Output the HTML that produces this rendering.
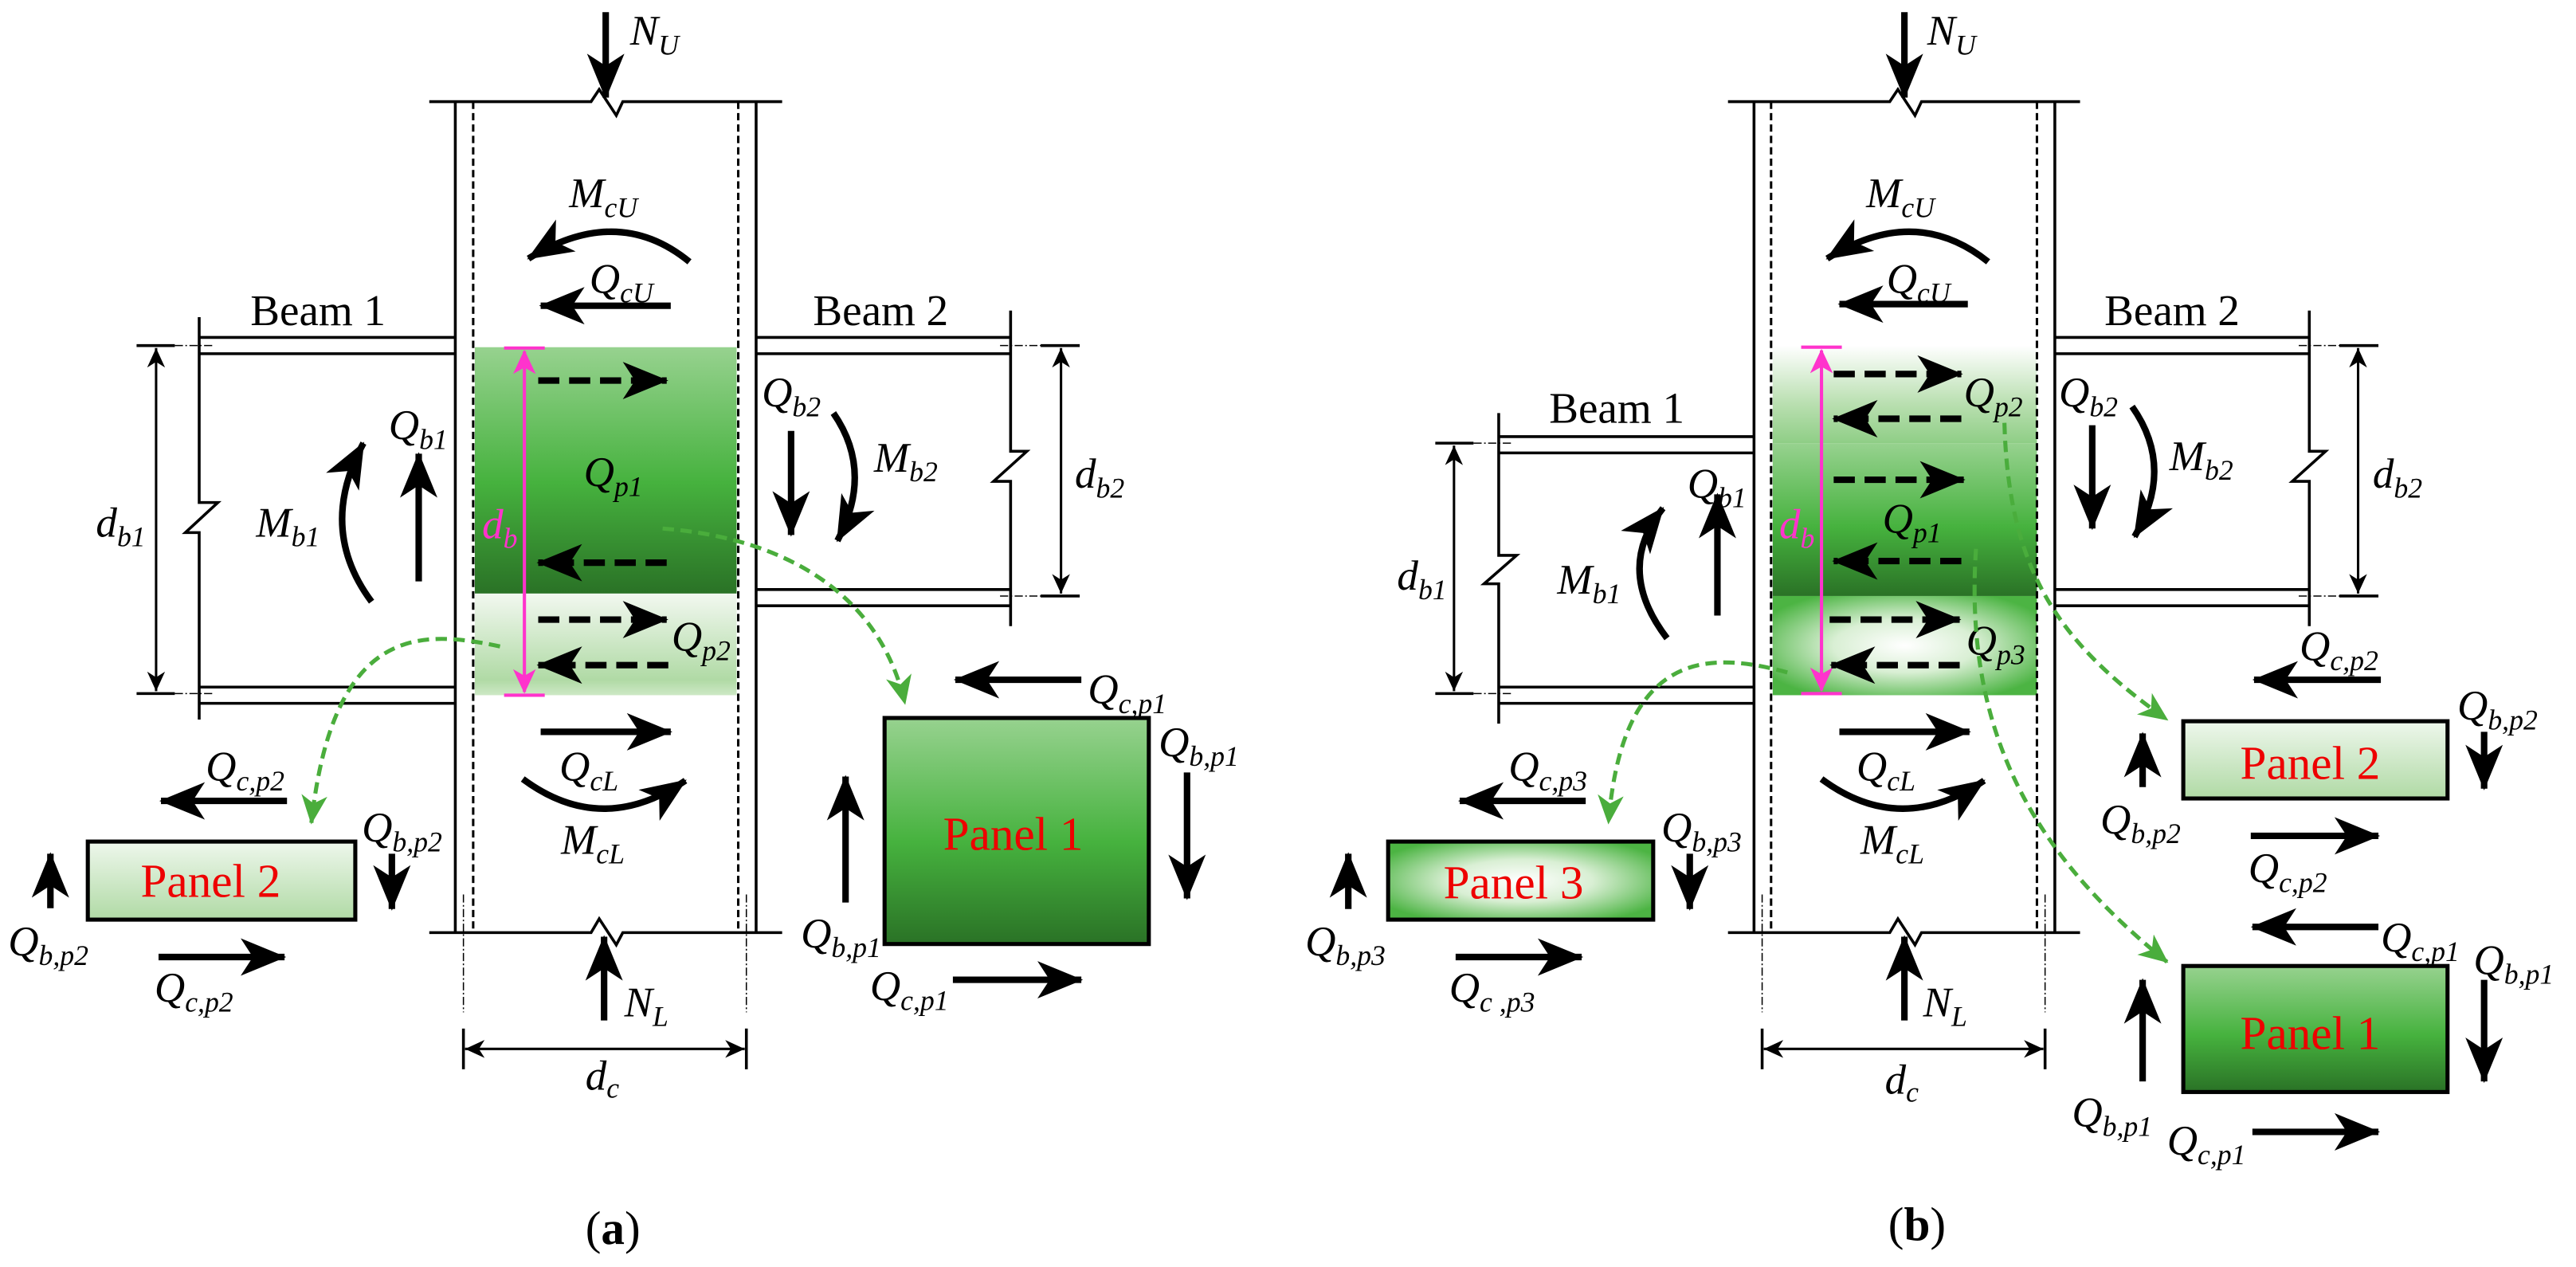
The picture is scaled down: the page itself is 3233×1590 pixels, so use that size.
<!DOCTYPE html>
<html><head><meta charset="utf-8"><style>
html,body{margin:0;padding:0;background:#fff}
svg{display:block}
text{font-family:"Liberation Serif","Noto Serif CJK SC","DejaVu Serif",serif}
.m{font-style:italic;font-size:52px;fill:#000}
.s{font-size:35px}
.t{font-size:54px;fill:#000}
.pl{font-size:58px;fill:#e00}
.k{stroke:#000;stroke-width:3.5;fill:none}
.a{stroke:#000;stroke-width:8;fill:none;marker-end:url(#ah)}
.da{stroke:#000;stroke-width:8;fill:none;stroke-dasharray:26,12;marker-end:url(#ah)}
.dim{stroke:#000;stroke-width:3;fill:none;marker-end:url(#sh);marker-start:url(#sh)}
.dd{stroke:#000;stroke-width:3;stroke-dasharray:9,5;fill:none}
.dt{stroke:#000;stroke-width:1.5;stroke-dasharray:10,3,2,3;fill:none}
.g{stroke:#4aad3c;stroke-width:5;stroke-dasharray:14,8;fill:none;marker-end:url(#gh)}
.box{stroke:#000;stroke-width:5}
</style></head><body>
<svg width="3233" height="1590" viewBox="0 0 3233 1590" xmlns="http://www.w3.org/2000/svg">
<defs>
<marker id="ah" markerUnits="userSpaceOnUse" markerWidth="64" markerHeight="50" refX="54" refY="23" orient="auto"><path d="M0,0 L56,23 L0,46 L15,23 z" fill="#000"/></marker>
<marker id="sh" markerUnits="userSpaceOnUse" markerWidth="30" markerHeight="24" refX="24" refY="11" orient="auto-start-reverse"><path d="M0,0 L24,11 L0,22 L7,11 z" fill="#000"/></marker>
<marker id="ph" markerUnits="userSpaceOnUse" markerWidth="30" markerHeight="34" refX="28" refY="14" orient="auto-start-reverse"><path d="M0,0 L30,14 L0,28 L8,14 z" fill="#ff33cc"/></marker>
<marker id="gh" markerUnits="userSpaceOnUse" markerWidth="44" markerHeight="40" refX="34" refY="16" orient="auto"><path d="M0,0 L36,16 L0,32 L10,16 z" fill="#4aad3c"/></marker>
<linearGradient id="dk" x1="0" y1="0" x2="0" y2="1"><stop offset="0" stop-color="#97d28f"/><stop offset="0.55" stop-color="#46b23e"/><stop offset="1" stop-color="#2a7226"/></linearGradient>
<linearGradient id="lt" x1="0" y1="0" x2="0" y2="1"><stop offset="0" stop-color="#f2f8f0"/><stop offset="0.85" stop-color="#b0daa5"/><stop offset="1" stop-color="#cde8c5"/></linearGradient>
<linearGradient id="lt2" x1="0" y1="0" x2="0" y2="1"><stop offset="0" stop-color="#ffffff"/><stop offset="0.6" stop-color="#b9dfb0"/><stop offset="1" stop-color="#8fce86"/></linearGradient>
<radialGradient id="rd" cx="0.5" cy="0.5" r="0.6"><stop offset="0" stop-color="#ffffff"/><stop offset="0.45" stop-color="#d9efd4"/><stop offset="1" stop-color="#4cb443"/></radialGradient>
<linearGradient id="lp" x1="0" y1="0" x2="0" y2="1"><stop offset="0" stop-color="#eef7ec"/><stop offset="1" stop-color="#b0daa5"/></linearGradient>
</defs>

<!-- ===== (a) ===== -->
<g transform="scale(1.0204)">
<rect x="584" y="427" width="322" height="303" fill="url(#dk)"/>
<rect x="584" y="730" width="322" height="125" fill="url(#lt)"/>
<path class="k" d="M528,125 H727 L737,110 L758,142 L766,125 H962"/>
<path class="k" d="M528,1147 H727 L737,1130 L758,1162 L766,1147 H962"/>
<line class="k" x1="560" y1="125" x2="560" y2="1147"/>
<line class="k" x1="930" y1="125" x2="930" y2="1147"/>
<line class="dd" x1="582" y1="125" x2="582" y2="1147"/>
<line class="dd" x1="908" y1="125" x2="908" y2="1147"/>
<line class="dt" x1="570" y1="1100" x2="570" y2="1245"/>
<line class="dt" x1="918" y1="1100" x2="918" y2="1245"/>
<line class="k" x1="570" y1="1265" x2="570" y2="1315"/>
<line class="k" x1="918" y1="1265" x2="918" y2="1315"/>
<line class="dim" x1="572" y1="1290" x2="916" y2="1290"/>
<text class="m" x="720" y="1340">d<tspan class="s" dy="10">c</tspan></text>
<line class="a" x1="745" y1="15" x2="745" y2="120"/>
<text class="m" x="775" y="55">N<tspan class="s" dy="12">U</tspan></text>
<line class="a" x1="743" y1="1255" x2="743" y2="1152"/>
<text class="m" x="768" y="1250">N<tspan class="s" dy="12">L</tspan></text>
<line stroke="#ff33cc" stroke-width="4" x1="645" y1="432" x2="645" y2="851" marker-start="url(#ph)" marker-end="url(#ph)"/>
<line stroke="#ff33cc" stroke-width="4" x1="620" y1="428" x2="670" y2="428"/>
<line stroke="#ff33cc" stroke-width="4" x1="620" y1="855" x2="670" y2="855"/>
<text class="m" x="593" y="662" style="fill:#ff33cc">d<tspan class="s" dy="12">b</tspan></text>
<line class="da" x1="662" y1="468" x2="820" y2="468"/>
<line class="da" x1="820" y1="692" x2="662" y2="692"/>
<line class="da" x1="662" y1="762" x2="820" y2="762"/>
<line class="da" x1="822" y1="818" x2="662" y2="818"/>
<text class="m" x="718" y="598">Q<tspan class="s" dy="12">p1</tspan></text>
<text class="m" x="826" y="800">Q<tspan class="s" dy="12">p2</tspan></text>
<path class="a" d="M848,322 Q760,250 650,318"/>
<text class="m" x="700" y="255">M<tspan class="s" dy="12">cU</tspan></text>
<line class="a" x1="825" y1="376" x2="665" y2="376"/>
<text class="m" x="725" y="360">Q<tspan class="s" dy="12">cU</tspan></text>
<line class="a" x1="665" y1="900" x2="825" y2="900"/>
<text class="m" x="688" y="960">Q<tspan class="s" dy="12">cL</tspan></text>
<path class="a" d="M643,958 Q740,1030 843,960"/>
<text class="m" x="690" y="1050">M<tspan class="s" dy="12">cL</tspan></text>
<path class="k" d="M245,415 H560 M245,435 H560 M245,845 H560 M245,865 H560"/>
<path class="k" d="M245,390 V618 L268,618 L228,655 L245,655 V885"/>
<path class="k" d="M168,425 H215 M168,853 H215"/>
<path class="dt" d="M215,425 H262 M215,853 H262"/>
<line class="dim" x1="192" y1="428" x2="192" y2="850"/>
<text class="m" x="118" y="660">d<tspan class="s" dy="12">b1</tspan></text>
<text class="t" x="308" y="400">Beam 1</text>
<path class="a" d="M457,740 Q390,650 447,545"/>
<text class="m" x="315" y="660">M<tspan class="s" dy="12">b1</tspan></text>
<line class="a" x1="515" y1="715" x2="515" y2="558"/>
<text class="m" x="478" y="540">Q<tspan class="s" dy="12">b1</tspan></text>
<path class="k" d="M930,415 H1243 M930,435 H1243 M930,725 H1243 M930,745 H1243"/>
<path class="k" d="M1243,382 V555 L1263,555 L1222,592 L1243,592 V770"/>
<path class="k" d="M1280,425 H1328 M1280,733 H1328"/>
<path class="dt" d="M1230,425 H1280 M1230,733 H1280"/>
<line class="dim" x1="1305" y1="428" x2="1305" y2="730"/>
<text class="m" x="1322" y="600">d<tspan class="s" dy="12">b2</tspan></text>
<text class="t" x="1000" y="400">Beam 2</text>
<line class="a" x1="973" y1="530" x2="973" y2="658"/>
<text class="m" x="937" y="500">Q<tspan class="s" dy="12">b2</tspan></text>
<path class="a" d="M1025,508 Q1075,580 1030,665"/>
<text class="m" x="1075" y="580">M<tspan class="s" dy="12">b2</tspan></text>
<rect class="box" x="1088" y="883" width="325" height="278" fill="url(#dk)"/>
<text class="pl" x="1160" y="1045">Panel 1</text>
<line class="a" x1="1330" y1="836" x2="1175" y2="836"/>
<text class="m" x="1338" y="865">Q<tspan class="s" dy="12">c,p1</tspan></text>
<line class="a" x1="1460" y1="950" x2="1460" y2="1105"/>
<text class="m" x="1425" y="930">Q<tspan class="s" dy="12">b,p1</tspan></text>
<line class="a" x1="1040" y1="1110" x2="1040" y2="955"/>
<text class="m" x="985" y="1165">Q<tspan class="s" dy="12">b,p1</tspan></text>
<line class="a" x1="1172" y1="1205" x2="1330" y2="1205"/>
<text class="m" x="1070" y="1230">Q<tspan class="s" dy="12">c,p1</tspan></text>
<rect class="box" x="108" y="1035" width="329" height="96" fill="url(#lp)"/>
<text class="pl" x="173" y="1103">Panel 2</text>
<line class="a" x1="353" y1="985" x2="198" y2="985"/>
<text class="m" x="253" y="960">Q<tspan class="s" dy="12">c,p2</tspan></text>
<line class="a" x1="482" y1="1050" x2="482" y2="1118"/>
<text class="m" x="445" y="1035">Q<tspan class="s" dy="12">b,p2</tspan></text>
<line class="a" x1="62" y1="1117" x2="62" y2="1050"/>
<text class="m" x="10" y="1175">Q<tspan class="s" dy="12">b,p2</tspan></text>
<line class="a" x1="195" y1="1177" x2="350" y2="1177"/>
<text class="m" x="190" y="1232">Q<tspan class="s" dy="12">c,p2</tspan></text>
<path class="g" d="M615,795 C520,775 410,765 383,1012"/>
<path class="g" d="M815,650 C950,660 1080,720 1113,865"/>
<text class="t" x="720" y="1530" style="font-size:58px">(<tspan font-weight="bold">a</tspan>)</text>
</g>

<!-- ===== (b) ===== -->
<g transform="translate(1633,0) scale(1.0204)">
<rect x="580" y="425" width="325" height="120" fill="url(#lt2)"/>
<rect x="580" y="545" width="325" height="188" fill="url(#dk)"/>
<rect x="580" y="733" width="325" height="122" fill="url(#rd)"/>
<path class="k" d="M525,125 H724 L734,110 L755,142 L763,125 H958"/>
<path class="k" d="M525,1147 H724 L734,1130 L755,1162 L763,1147 H958"/>
<line class="k" x1="557" y1="125" x2="557" y2="1147"/>
<line class="k" x1="927" y1="125" x2="927" y2="1147"/>
<line class="dd" x1="578" y1="125" x2="578" y2="1147"/>
<line class="dd" x1="905" y1="125" x2="905" y2="1147"/>
<line class="dt" x1="567" y1="1100" x2="567" y2="1245"/>
<line class="dt" x1="915" y1="1100" x2="915" y2="1245"/>
<line class="k" x1="567" y1="1265" x2="567" y2="1315"/>
<line class="k" x1="915" y1="1265" x2="915" y2="1315"/>
<line class="dim" x1="569" y1="1290" x2="913" y2="1290"/>
<text class="m" x="718" y="1345">d<tspan class="s" dy="10">c</tspan></text>
<line class="a" x1="742" y1="15" x2="742" y2="120"/>
<text class="m" x="770" y="55">N<tspan class="s" dy="12">U</tspan></text>
<line class="a" x1="742" y1="1255" x2="742" y2="1152"/>
<text class="m" x="765" y="1250">N<tspan class="s" dy="12">L</tspan></text>
<line stroke="#ff33cc" stroke-width="4" x1="640" y1="431" x2="640" y2="849" marker-start="url(#ph)" marker-end="url(#ph)"/>
<line stroke="#ff33cc" stroke-width="4" x1="615" y1="427" x2="665" y2="427"/>
<line stroke="#ff33cc" stroke-width="4" x1="615" y1="853" x2="665" y2="853"/>
<text class="m" x="588" y="662" style="fill:#ff33cc">d<tspan class="s" dy="12">b</tspan></text>
<line class="da" x1="655" y1="460" x2="812" y2="460"/>
<line class="da" x1="812" y1="515" x2="655" y2="515"/>
<line class="da" x1="655" y1="590" x2="815" y2="590"/>
<line class="da" x1="812" y1="690" x2="655" y2="690"/>
<line class="da" x1="650" y1="762" x2="810" y2="762"/>
<line class="da" x1="810" y1="818" x2="652" y2="818"/>
<text class="m" x="815" y="500">Q<tspan class="s" dy="12">p2</tspan></text>
<text class="m" x="715" y="655">Q<tspan class="s" dy="12">p1</tspan></text>
<text class="m" x="818" y="805">Q<tspan class="s" dy="12">p3</tspan></text>
<path class="a" d="M845,322 Q755,250 647,318"/>
<text class="m" x="695" y="255">M<tspan class="s" dy="12">cU</tspan></text>
<line class="a" x1="820" y1="374" x2="662" y2="374"/>
<text class="m" x="720" y="360">Q<tspan class="s" dy="12">cU</tspan></text>
<line class="a" x1="662" y1="900" x2="822" y2="900"/>
<text class="m" x="683" y="960">Q<tspan class="s" dy="12">cL</tspan></text>
<path class="a" d="M640,958 Q737,1030 840,960"/>
<text class="m" x="688" y="1050">M<tspan class="s" dy="12">cL</tspan></text>
<path class="k" d="M243,537 H557 M243,557 H557 M243,845 H557 M243,865 H557"/>
<path class="k" d="M243,508 V683 L265,683 L225,718 L243,718 V890"/>
<path class="k" d="M165,545 H212 M165,853 H212"/>
<path class="dt" d="M212,545 H258 M212,853 H258"/>
<line class="dim" x1="188" y1="548" x2="188" y2="850"/>
<text class="m" x="118" y="725">d<tspan class="s" dy="12">b1</tspan></text>
<text class="t" x="305" y="520">Beam 1</text>
<path class="a" d="M450,785 Q385,700 445,625"/>
<text class="m" x="315" y="730">M<tspan class="s" dy="12">b1</tspan></text>
<line class="a" x1="512" y1="757" x2="512" y2="608"/>
<text class="m" x="475" y="612">Q<tspan class="s" dy="12">b1</tspan></text>
<path class="k" d="M927,415 H1240 M927,435 H1240 M927,725 H1240 M927,745 H1240"/>
<path class="k" d="M1240,382 V555 L1260,555 L1219,592 L1240,592 V770"/>
<path class="k" d="M1277,425 H1325 M1277,733 H1325"/>
<path class="dt" d="M1227,425 H1277 M1227,733 H1277"/>
<line class="dim" x1="1300" y1="428" x2="1300" y2="730"/>
<text class="m" x="1318" y="600">d<tspan class="s" dy="12">b2</tspan></text>
<text class="t" x="988" y="400">Beam 2</text>
<line class="a" x1="973" y1="523" x2="973" y2="650"/>
<text class="m" x="932" y="500">Q<tspan class="s" dy="12">b2</tspan></text>
<path class="a" d="M1022,500 Q1075,575 1025,660"/>
<text class="m" x="1068" y="578">M<tspan class="s" dy="12">b2</tspan></text>
<rect class="box" x="1085" y="887" width="325" height="95" fill="url(#lp)"/>
<text class="pl" x="1155" y="958">Panel 2</text>
<line class="a" x1="1328" y1="836" x2="1172" y2="836"/>
<text class="m" x="1228" y="812">Q<tspan class="s" dy="12">c,p2</tspan></text>
<line class="a" x1="1455" y1="900" x2="1455" y2="970"/>
<text class="m" x="1422" y="885">Q<tspan class="s" dy="12">b,p2</tspan></text>
<line class="a" x1="1035" y1="968" x2="1035" y2="902"/>
<text class="m" x="983" y="1025">Q<tspan class="s" dy="12">b,p2</tspan></text>
<line class="a" x1="1168" y1="1028" x2="1325" y2="1028"/>
<text class="m" x="1165" y="1085">Q<tspan class="s" dy="12">c,p2</tspan></text>
<rect class="box" x="1085" y="1188" width="325" height="155" fill="url(#dk)"/>
<text class="pl" x="1155" y="1290">Panel 1</text>
<line class="a" x1="1325" y1="1140" x2="1170" y2="1140"/>
<text class="m" x="1328" y="1170">Q<tspan class="s" dy="12">c,p1</tspan></text>
<line class="a" x1="1455" y1="1205" x2="1455" y2="1330"/>
<text class="m" x="1442" y="1198">Q<tspan class="s" dy="12">b,p1</tspan></text>
<line class="a" x1="1035" y1="1330" x2="1035" y2="1205"/>
<text class="m" x="948" y="1385">Q<tspan class="s" dy="12">b,p1</tspan></text>
<line class="a" x1="1170" y1="1392" x2="1325" y2="1392"/>
<text class="m" x="1065" y="1420">Q<tspan class="s" dy="12">c,p1</tspan></text>
<rect class="box" x="107" y="1035" width="326" height="96" fill="url(#rd)"/>
<text class="pl" x="175" y="1105">Panel 3</text>
<line class="a" x1="350" y1="985" x2="195" y2="985"/>
<text class="m" x="255" y="960">Q<tspan class="s" dy="12">c,p3</tspan></text>
<line class="a" x1="478" y1="1050" x2="478" y2="1118"/>
<text class="m" x="443" y="1035">Q<tspan class="s" dy="12">b,p3</tspan></text>
<line class="a" x1="58" y1="1118" x2="58" y2="1050"/>
<text class="m" x="5" y="1175">Q<tspan class="s" dy="12">b,p3</tspan></text>
<line class="a" x1="190" y1="1177" x2="345" y2="1177"/>
<text class="m" x="182" y="1232">Q<tspan class="s" dy="12">c ,p3</tspan></text>
<path class="g" d="M598,827 C500,800 395,800 378,1012"/>
<path class="g" d="M865,520 C870,700 930,790 1065,885"/>
<path class="g" d="M830,675 C815,900 900,1050 1065,1183"/>
<text class="t" x="722" y="1525" style="font-size:58px">(<tspan font-weight="bold">b</tspan>)</text>
</g>
</svg>
</body></html>
